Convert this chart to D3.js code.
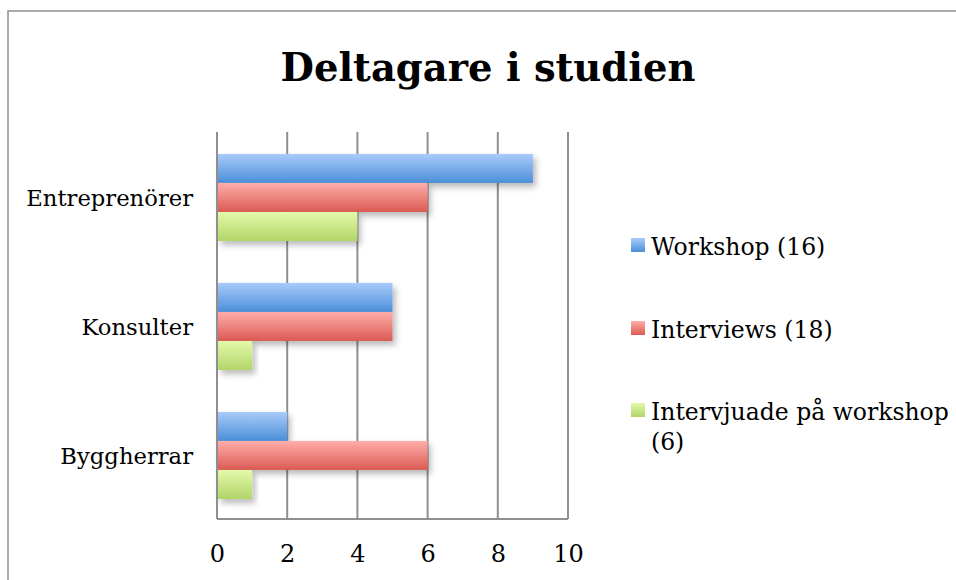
<!DOCTYPE html>
<html>
<head>
<meta charset="utf-8">
<title>Deltagare i studien</title>
<style>
  body { margin: 0; background: #fff; overflow: hidden; }
  svg text { font-family: "DejaVu Serif", serif; fill: #000; }
</style>
</head>
<body>
<svg id="chart" width="956" height="580"></svg>
<script src="https://d3js.org/d3.v7.min.js"></script>
<script>
// data
const categories = ["Entreprenörer", "Konsulter", "Byggherrar"];
const seriesNames = ["Workshop (16)", "Interviews (18)", "Intervjuade på workshop (6)"];
const workshop = [9, 5, 2];
const interviews = [6, 5, 6];
const intervjuade = [4, 1, 1];
const xTicks = [0, 2, 4, 6, 8, 10];

const series = [workshop, interviews, intervjuade];
const gradients = [
    ["#a9cbfa", "#4b8fd9"],
    ["#ffaeac", "#db5a52"],
    ["#e4f9ab", "#b1d568"]
];

const svg = d3.select("#chart");

// outer frame, only top and left edges show inside the window
svg.append("path")
    .attr("d", "M8,600V11H1000")
    .attr("fill", "none")
    .attr("stroke", "#8f8f8f")
    .attr("stroke-width", 1.5);

const defs = svg.append("defs");
gradients.forEach(function(g, i) {
    const lg = defs.append("linearGradient")
        .attr("id", "grad" + i)
        .attr("x1", 0).attr("y1", 0).attr("x2", 0).attr("y2", 1);
    lg.append("stop").attr("offset", "0%").attr("stop-color", g[0]);
    lg.append("stop").attr("offset", "100%").attr("stop-color", g[1]);
});
defs.append("filter")
    .attr("id", "shadow")
    .attr("x", "-10%").attr("y", "-20%")
    .attr("width", "130%").attr("height", "170%")
    .append("feDropShadow")
    .attr("dx", 3).attr("dy", 4)
    .attr("stdDeviation", 3)
    .attr("flood-color", "#000")
    .attr("flood-opacity", 0.28);

const plotLeft = 217, plotRight = 568, plotTop = 132, plotBottom = 519;

const x = d3.scaleLinear().domain([0, 10]).range([plotLeft, plotRight]);
const y = d3.scaleBand().domain(categories).range([plotTop, plotBottom]);
const yInner = d3.scaleBand()
    .domain(d3.range(series.length))
    .range([y.bandwidth() * 0.17, y.bandwidth() * 0.845]);

// title
svg.append("text")
    .attr("x", 488).attr("y", 81)
    .attr("text-anchor", "middle")
    .style("font-size", "38.5px")
    .style("font-weight", "bold")
    .text("Deltagare i studien");

// grid lines
svg.append("g")
    .selectAll("line")
    .data(xTicks)
    .join("line")
    .attr("x1", d => x(d)).attr("x2", d => x(d))
    .attr("y1", plotTop).attr("y2", plotBottom)
    .attr("stroke", "#8f8f8f")
    .attr("stroke-width", 2);

// bars
const groups = svg.append("g")
    .selectAll("g")
    .data(categories)
    .join("g")
    .attr("transform", d => `translate(0,${y(d)})`);

groups.selectAll("rect")
    .data((c, ci) => series.map((s, si) => ({ si: si, v: s[ci] })))
    .join("rect")
    .attr("x", x(0) + 1)
    .attr("y", d => yInner(d.si))
    .attr("width", d => x(d.v) - x(0) - 1)
    .attr("height", yInner.bandwidth())
    .attr("fill", d => `url(#grad${d.si})`)
    .attr("filter", "url(#shadow)");

// axes lines
svg.append("line")
    .attr("x1", plotLeft).attr("x2", plotLeft)
    .attr("y1", plotTop).attr("y2", plotBottom)
    .attr("stroke", "#8f8f8f").attr("stroke-width", 2);
svg.append("line")
    .attr("x1", plotLeft).attr("x2", plotRight)
    .attr("y1", plotBottom).attr("y2", plotBottom)
    .attr("stroke", "#8f8f8f").attr("stroke-width", 2);

// x tick labels
const xAxis = svg.append("g")
    .attr("transform", `translate(0,${plotBottom})`)
    .call(d3.axisBottom(x).tickValues(xTicks).tickSize(0).tickPadding(26));
xAxis.select(".domain").remove();
xAxis.selectAll("text")
    .style("font-size", "24px")
    .style("font-family", "DejaVu Serif, serif");

// category labels
const yAxis = svg.append("g")
    .attr("transform", `translate(${plotLeft},0)`)
    .call(d3.axisLeft(y).tickSize(0).tickPadding(24));
yAxis.select(".domain").remove();
yAxis.selectAll("text")
    .attr("dy", "0.4em")
    .style("font-size", "22.7px")
    .style("font-family", "DejaVu Serif, serif");

// legend
const legendRows = [[seriesNames[0]], [seriesNames[1]], ["Intervjuade på workshop", "(6)"]];
const legendY = [255, 338, 420];
const legend = svg.append("g");
legendRows.forEach(function(lines, i) {
    legend.append("rect")
        .attr("x", 631).attr("y", legendY[i] - 17)
        .attr("width", 14).attr("height", 14)
        .attr("fill", `url(#grad${i})`);
    const t = legend.append("text")
        .attr("x", 651).attr("y", legendY[i])
        .style("font-size", "23.5px");
    lines.forEach(function(line, j) {
        t.append("tspan")
            .attr("x", 651)
            .attr("dy", j === 0 ? 0 : 30)
            .text(line);
    });
});
</script>
</body>
</html>
